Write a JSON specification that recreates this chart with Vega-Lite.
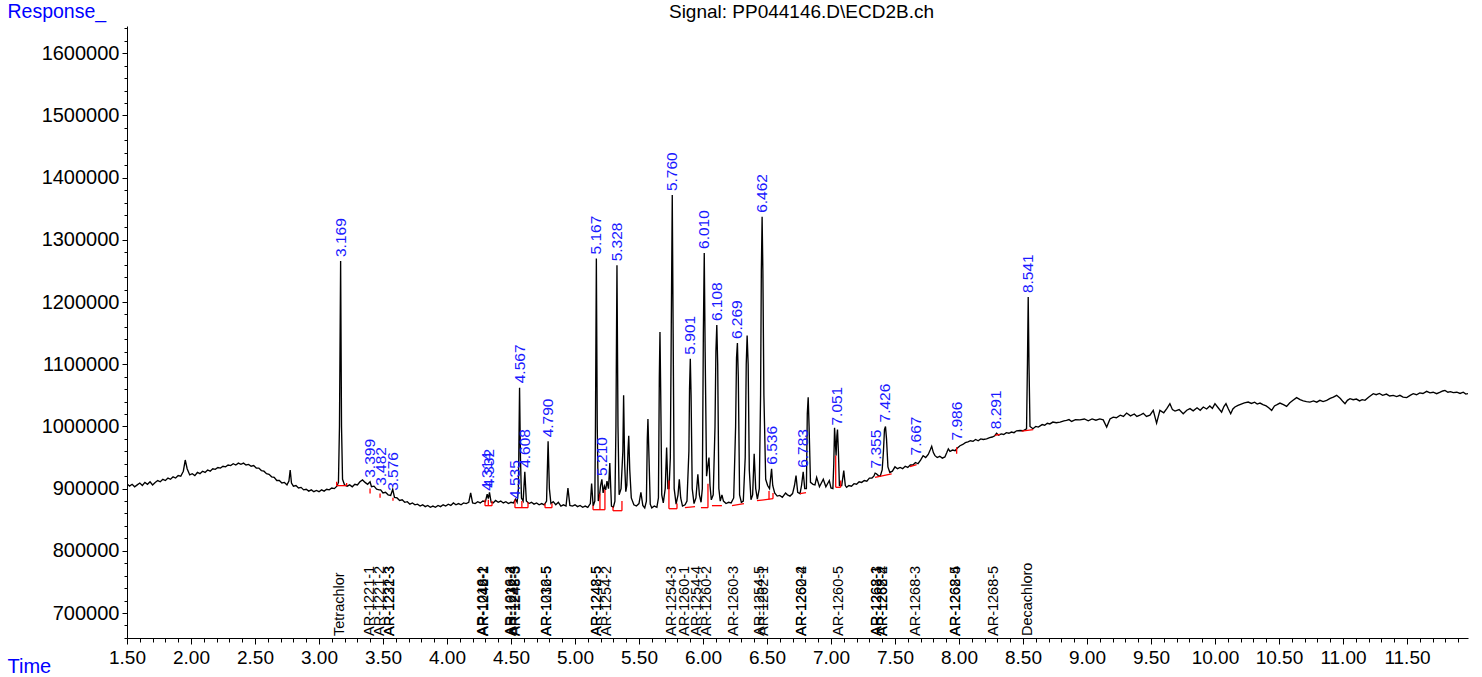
{
"$schema": "https://vega.github.io/schema/vega-lite/v6.json",
"width": 1341, "height": 612,
"autosize": {"type": "none"},
"padding": {"left": 127, "top": 26, "right": 14, "bottom": 39},
"background": "white",
"config": {"view": {"stroke": null}, "font": "Liberation Sans"},
"resolve": {"axis": {"x": "independent", "y": "independent"}},
"datasets": {
"signal": [
{"t":1.50,"r":908000},{"t":1.52,"r":904000},{"t":1.54,"r":907000},{"t":1.56,"r":903000},{"t":1.58,"r":906000},{"t":1.60,"r":909000},{"t":1.62,"r":905000},{"t":1.64,"r":910000},{"t":1.66,"r":907000},{"t":1.68,"r":911000},{"t":1.70,"r":906000},{"t":1.72,"r":910000},{"t":1.74,"r":913000},{"t":1.76,"r":911000},{"t":1.78,"r":915000},{"t":1.80,"r":913000},{"t":1.82,"r":917000},{"t":1.84,"r":915000},{"t":1.86,"r":919000},{"t":1.88,"r":917000},{"t":1.90,"r":921000},{"t":1.92,"r":920000},{"t":1.94,"r":928000},{"t":1.955,"r":946000},{"t":1.97,"r":932000},{"t":1.99,"r":922000},{"t":2.01,"r":924000},{"t":2.03,"r":921000},{"t":2.05,"r":926000},{"t":2.07,"r":924000},{"t":2.09,"r":928000},{"t":2.11,"r":926000},{"t":2.13,"r":930000},{"t":2.15,"r":928000},{"t":2.17,"r":932000},{"t":2.19,"r":931000},{"t":2.21,"r":934000},{"t":2.23,"r":933000},{"t":2.25,"r":936000},{"t":2.27,"r":935000},{"t":2.29,"r":938000},{"t":2.31,"r":937000},{"t":2.33,"r":940000},{"t":2.35,"r":938000},{"t":2.37,"r":941000},{"t":2.39,"r":939000},{"t":2.41,"r":941000},{"t":2.43,"r":938000},{"t":2.45,"r":939000},{"t":2.47,"r":936000},{"t":2.49,"r":937000},{"t":2.51,"r":933000},{"t":2.53,"r":933000},{"t":2.55,"r":929000},{"t":2.57,"r":928000},{"t":2.59,"r":924000},{"t":2.61,"r":923000},{"t":2.63,"r":919000},{"t":2.65,"r":918000},{"t":2.67,"r":913000},{"t":2.69,"r":913000},{"t":2.71,"r":909000},{"t":2.73,"r":910000},{"t":2.75,"r":906000},{"t":2.765,"r":912000},{"t":2.775,"r":930000},{"t":2.785,"r":909000},{"t":2.80,"r":904000},{"t":2.82,"r":905000},{"t":2.84,"r":901000},{"t":2.86,"r":902000},{"t":2.88,"r":898000},{"t":2.90,"r":899000},{"t":2.92,"r":896000},{"t":2.94,"r":898000},{"t":2.96,"r":895000},{"t":2.98,"r":897000},{"t":3.00,"r":895000},{"t":3.02,"r":898000},{"t":3.04,"r":896000},{"t":3.06,"r":899000},{"t":3.08,"r":898000},{"t":3.10,"r":901000},{"t":3.12,"r":900000},{"t":3.14,"r":904000},{"t":3.152,"r":910000},{"t":3.160,"r":1000000},{"t":3.169,"r":1266000},{"t":3.176,"r":1000000},{"t":3.184,"r":915000},{"t":3.20,"r":906000},{"t":3.22,"r":904000},{"t":3.24,"r":906000},{"t":3.26,"r":903000},{"t":3.28,"r":907000},{"t":3.30,"r":906000},{"t":3.32,"r":911000},{"t":3.34,"r":914000},{"t":3.36,"r":910000},{"t":3.38,"r":907000},{"t":3.399,"r":911000},{"t":3.41,"r":903000},{"t":3.43,"r":904000},{"t":3.45,"r":899000},{"t":3.47,"r":898000},{"t":3.482,"r":898000},{"t":3.50,"r":893000},{"t":3.52,"r":894000},{"t":3.54,"r":890000},{"t":3.56,"r":889000},{"t":3.576,"r":899000},{"t":3.59,"r":886000},{"t":3.61,"r":885000},{"t":3.63,"r":881000},{"t":3.65,"r":882000},{"t":3.67,"r":878000},{"t":3.69,"r":879000},{"t":3.71,"r":875000},{"t":3.73,"r":877000},{"t":3.75,"r":874000},{"t":3.77,"r":875000},{"t":3.79,"r":872000},{"t":3.81,"r":874000},{"t":3.83,"r":871000},{"t":3.85,"r":873000},{"t":3.87,"r":870000},{"t":3.89,"r":872000},{"t":3.91,"r":870000},{"t":3.93,"r":873000},{"t":3.95,"r":871000},{"t":3.97,"r":874000},{"t":3.99,"r":872000},{"t":4.01,"r":875000},{"t":4.03,"r":873000},{"t":4.05,"r":877000},{"t":4.07,"r":874000},{"t":4.09,"r":876000},{"t":4.11,"r":874000},{"t":4.13,"r":877000},{"t":4.15,"r":876000},{"t":4.17,"r":878000},{"t":4.185,"r":893000},{"t":4.20,"r":877000},{"t":4.22,"r":876000},{"t":4.24,"r":879000},{"t":4.26,"r":877000},{"t":4.28,"r":880000},{"t":4.30,"r":879000},{"t":4.314,"r":891000},{"t":4.323,"r":884000},{"t":4.332,"r":894000},{"t":4.345,"r":878000},{"t":4.36,"r":877000},{"t":4.38,"r":881000},{"t":4.40,"r":878000},{"t":4.42,"r":880000},{"t":4.44,"r":877000},{"t":4.46,"r":879000},{"t":4.48,"r":876000},{"t":4.50,"r":878000},{"t":4.52,"r":877000},{"t":4.535,"r":883000},{"t":4.548,"r":878000},{"t":4.558,"r":900000},{"t":4.567,"r":1062000},{"t":4.574,"r":950000},{"t":4.582,"r":885000},{"t":4.595,"r":880000},{"t":4.608,"r":927000},{"t":4.62,"r":880000},{"t":4.64,"r":876000},{"t":4.66,"r":878000},{"t":4.68,"r":875000},{"t":4.70,"r":877000},{"t":4.72,"r":874000},{"t":4.74,"r":876000},{"t":4.76,"r":874000},{"t":4.778,"r":880000},{"t":4.790,"r":976000},{"t":4.80,"r":900000},{"t":4.812,"r":876000},{"t":4.83,"r":879000},{"t":4.85,"r":874000},{"t":4.87,"r":878000},{"t":4.89,"r":872000},{"t":4.91,"r":874000},{"t":4.93,"r":872000},{"t":4.945,"r":901000},{"t":4.96,"r":873000},{"t":4.98,"r":872000},{"t":5.00,"r":874000},{"t":5.02,"r":871000},{"t":5.04,"r":873000},{"t":5.06,"r":870000},{"t":5.08,"r":872000},{"t":5.10,"r":870000},{"t":5.12,"r":876000},{"t":5.13,"r":908000},{"t":5.142,"r":872000},{"t":5.155,"r":880000},{"t":5.160,"r":1000000},{"t":5.167,"r":1270000},{"t":5.174,"r":1000000},{"t":5.182,"r":880000},{"t":5.192,"r":890000},{"t":5.20,"r":905000},{"t":5.21,"r":915000},{"t":5.22,"r":893000},{"t":5.23,"r":904000},{"t":5.24,"r":898000},{"t":5.25,"r":912000},{"t":5.262,"r":900000},{"t":5.272,"r":941000},{"t":5.285,"r":872000},{"t":5.30,"r":870000},{"t":5.312,"r":880000},{"t":5.320,"r":1000000},{"t":5.328,"r":1259000},{"t":5.336,"r":1000000},{"t":5.345,"r":890000},{"t":5.36,"r":900000},{"t":5.374,"r":960000},{"t":5.380,"r":1050000},{"t":5.388,"r":940000},{"t":5.397,"r":895000},{"t":5.405,"r":905000},{"t":5.414,"r":960000},{"t":5.420,"r":985000},{"t":5.428,"r":930000},{"t":5.44,"r":885000},{"t":5.46,"r":874000},{"t":5.48,"r":872000},{"t":5.50,"r":876000},{"t":5.515,"r":894000},{"t":5.53,"r":873000},{"t":5.545,"r":869000},{"t":5.558,"r":880000},{"t":5.565,"r":980000},{"t":5.570,"r":1012000},{"t":5.577,"r":960000},{"t":5.588,"r":875000},{"t":5.60,"r":869000},{"t":5.62,"r":872000},{"t":5.64,"r":870000},{"t":5.652,"r":885000},{"t":5.659,"r":1080000},{"t":5.664,"r":1152000},{"t":5.670,"r":1050000},{"t":5.678,"r":890000},{"t":5.690,"r":877000},{"t":5.705,"r":900000},{"t":5.716,"r":966000},{"t":5.726,"r":900000},{"t":5.735,"r":900000},{"t":5.745,"r":950000},{"t":5.752,"r":1150000},{"t":5.760,"r":1372000},{"t":5.767,"r":1150000},{"t":5.775,"r":900000},{"t":5.790,"r":875000},{"t":5.805,"r":890000},{"t":5.815,"r":915000},{"t":5.826,"r":885000},{"t":5.84,"r":872000},{"t":5.86,"r":874000},{"t":5.875,"r":880000},{"t":5.890,"r":960000},{"t":5.895,"r":1060000},{"t":5.901,"r":1109000},{"t":5.907,"r":1050000},{"t":5.916,"r":900000},{"t":5.93,"r":876000},{"t":5.945,"r":885000},{"t":5.960,"r":923000},{"t":5.972,"r":890000},{"t":5.985,"r":878000},{"t":5.995,"r":900000},{"t":6.003,"r":1150000},{"t":6.010,"r":1279000},{"t":6.017,"r":1120000},{"t":6.028,"r":920000},{"t":6.040,"r":940000},{"t":6.047,"r":950000},{"t":6.055,"r":905000},{"t":6.065,"r":882000},{"t":6.080,"r":890000},{"t":6.094,"r":1000000},{"t":6.101,"r":1120000},{"t":6.108,"r":1163000},{"t":6.115,"r":1100000},{"t":6.124,"r":900000},{"t":6.135,"r":880000},{"t":6.148,"r":890000},{"t":6.160,"r":880000},{"t":6.18,"r":876000},{"t":6.20,"r":878000},{"t":6.22,"r":877000},{"t":6.240,"r":885000},{"t":6.255,"r":1000000},{"t":6.262,"r":1110000},{"t":6.269,"r":1134000},{"t":6.276,"r":1080000},{"t":6.286,"r":890000},{"t":6.30,"r":878000},{"t":6.315,"r":880000},{"t":6.330,"r":950000},{"t":6.338,"r":1100000},{"t":6.345,"r":1146000},{"t":6.353,"r":1100000},{"t":6.362,"r":930000},{"t":6.375,"r":882000},{"t":6.388,"r":890000},{"t":6.400,"r":956000},{"t":6.412,"r":900000},{"t":6.425,"r":883000},{"t":6.440,"r":900000},{"t":6.450,"r":1050000},{"t":6.456,"r":1250000},{"t":6.462,"r":1337000},{"t":6.468,"r":1250000},{"t":6.476,"r":1050000},{"t":6.490,"r":915000},{"t":6.505,"r":905000},{"t":6.520,"r":900000},{"t":6.530,"r":920000},{"t":6.536,"r":932000},{"t":6.545,"r":905000},{"t":6.56,"r":893000},{"t":6.58,"r":888000},{"t":6.60,"r":889000},{"t":6.62,"r":886000},{"t":6.645,"r":893000},{"t":6.66,"r":890000},{"t":6.68,"r":888000},{"t":6.700,"r":892000},{"t":6.715,"r":905000},{"t":6.727,"r":921000},{"t":6.740,"r":894000},{"t":6.758,"r":892000},{"t":6.770,"r":905000},{"t":6.783,"r":927000},{"t":6.795,"r":900000},{"t":6.808,"r":900000},{"t":6.815,"r":1020000},{"t":6.822,"r":1047000},{"t":6.829,"r":1000000},{"t":6.840,"r":910000},{"t":6.86,"r":907000},{"t":6.875,"r":906000},{"t":6.888,"r":918000},{"t":6.91,"r":903000},{"t":6.94,"r":915000},{"t":6.96,"r":903000},{"t":6.987,"r":913000},{"t":7.00,"r":901000},{"t":7.015,"r":900000},{"t":7.022,"r":940000},{"t":7.028,"r":998000},{"t":7.034,"r":975000},{"t":7.040,"r":953000},{"t":7.046,"r":985000},{"t":7.051,"r":995000},{"t":7.058,"r":960000},{"t":7.066,"r":905000},{"t":7.084,"r":905000},{"t":7.10,"r":929000},{"t":7.112,"r":905000},{"t":7.122,"r":902000},{"t":7.14,"r":905000},{"t":7.16,"r":904000},{"t":7.18,"r":908000},{"t":7.20,"r":907000},{"t":7.22,"r":911000},{"t":7.24,"r":910000},{"t":7.26,"r":913000},{"t":7.28,"r":912000},{"t":7.30,"r":917000},{"t":7.32,"r":917000},{"t":7.335,"r":920000},{"t":7.345,"r":925000},{"t":7.355,"r":924000},{"t":7.37,"r":921000},{"t":7.385,"r":920000},{"t":7.400,"r":930000},{"t":7.410,"r":960000},{"t":7.418,"r":995000},{"t":7.426,"r":1000000},{"t":7.434,"r":980000},{"t":7.445,"r":935000},{"t":7.46,"r":926000},{"t":7.48,"r":928000},{"t":7.50,"r":935000},{"t":7.52,"r":932000},{"t":7.54,"r":934000},{"t":7.56,"r":932000},{"t":7.58,"r":936000},{"t":7.60,"r":934000},{"t":7.62,"r":938000},{"t":7.64,"r":938000},{"t":7.66,"r":942000},{"t":7.68,"r":940000},{"t":7.70,"r":946000},{"t":7.72,"r":953000},{"t":7.74,"r":950000},{"t":7.76,"r":955000},{"t":7.775,"r":962000},{"t":7.787,"r":968000},{"t":7.80,"r":958000},{"t":7.8125,"r":953000},{"t":7.83,"r":950000},{"t":7.85,"r":952000},{"t":7.87,"r":949000},{"t":7.89,"r":951000},{"t":7.905,"r":958000},{"t":7.917,"r":964000},{"t":7.93,"r":960000},{"t":7.95,"r":962000},{"t":7.97,"r":961000},{"t":7.986,"r":965000},{"t":8.008,"r":969000},{"t":8.03,"r":971000},{"t":8.05,"r":974000},{"t":8.07,"r":975000},{"t":8.09,"r":977000},{"t":8.11,"r":976000},{"t":8.13,"r":979000},{"t":8.15,"r":977000},{"t":8.17,"r":980000},{"t":8.19,"r":979000},{"t":8.216,"r":980000},{"t":8.24,"r":982000},{"t":8.26,"r":983000},{"t":8.28,"r":985000},{"t":8.294,"r":989000},{"t":8.31,"r":986000},{"t":8.33,"r":988000},{"t":8.35,"r":987000},{"t":8.37,"r":990000},{"t":8.39,"r":989000},{"t":8.41,"r":991000},{"t":8.43,"r":990000},{"t":8.45,"r":993000},{"t":8.477,"r":993500},{"t":8.50,"r":993000},{"t":8.528,"r":996000},{"t":8.535,"r":1100000},{"t":8.541,"r":1208000},{"t":8.547,"r":1100000},{"t":8.555,"r":1000000},{"t":8.578,"r":996300},{"t":8.60,"r":1000000},{"t":8.62,"r":999000},{"t":8.65,"r":1003000},{"t":8.67,"r":1002000},{"t":8.69,"r":1005000},{"t":8.71,"r":1004000},{"t":8.734,"r":1007000},{"t":8.76,"r":1006000},{"t":8.79,"r":1007000},{"t":8.82,"r":1009000},{"t":8.84,"r":1009700},{"t":8.86,"r":1011000},{"t":8.88,"r":1008000},{"t":8.91,"r":1011000},{"t":8.945,"r":1010500},{"t":8.98,"r":1012000},{"t":9.01,"r":1009000},{"t":9.04,"r":1012000},{"t":9.07,"r":1010000},{"t":9.10,"r":1012000},{"t":9.127,"r":1010500},{"t":9.154,"r":999000},{"t":9.18,"r":1012000},{"t":9.205,"r":1015000},{"t":9.23,"r":1014000},{"t":9.26,"r":1018000},{"t":9.285,"r":1016000},{"t":9.31,"r":1021500},{"t":9.34,"r":1017000},{"t":9.37,"r":1020000},{"t":9.39,"r":1016000},{"t":9.414,"r":1018000},{"t":9.44,"r":1021000},{"t":9.465,"r":1016000},{"t":9.492,"r":1018000},{"t":9.518,"r":1025800},{"t":9.544,"r":1005300},{"t":9.57,"r":1025800},{"t":9.60,"r":1022000},{"t":9.625,"r":1029000},{"t":9.648,"r":1036600},{"t":9.668,"r":1027000},{"t":9.688,"r":1024700},{"t":9.72,"r":1027000},{"t":9.752,"r":1020500},{"t":9.78,"r":1026000},{"t":9.805,"r":1028600},{"t":9.83,"r":1025000},{"t":9.86,"r":1030000},{"t":9.885,"r":1026000},{"t":9.909,"r":1031200},{"t":9.935,"r":1028000},{"t":9.96,"r":1033000},{"t":9.98,"r":1029000},{"t":10.00,"r":1036600},{"t":10.025,"r":1030000},{"t":10.052,"r":1023100},{"t":10.07,"r":1032000},{"t":10.086,"r":1036600},{"t":10.105,"r":1028000},{"t":10.123,"r":1020500},{"t":10.14,"r":1028000},{"t":10.156,"r":1031200},{"t":10.18,"r":1034000},{"t":10.205,"r":1036000},{"t":10.23,"r":1038000},{"t":10.26,"r":1039200},{"t":10.285,"r":1037000},{"t":10.31,"r":1039000},{"t":10.33,"r":1036000},{"t":10.352,"r":1037600},{"t":10.375,"r":1035000},{"t":10.40,"r":1033000},{"t":10.42,"r":1030000},{"t":10.443,"r":1025800},{"t":10.465,"r":1033000},{"t":10.485,"r":1035000},{"t":10.508,"r":1037600},{"t":10.535,"r":1035000},{"t":10.56,"r":1032300},{"t":10.585,"r":1038000},{"t":10.61,"r":1042000},{"t":10.638,"r":1046300},{"t":10.665,"r":1043000},{"t":10.69,"r":1041000},{"t":10.715,"r":1040000},{"t":10.742,"r":1039200},{"t":10.77,"r":1041000},{"t":10.795,"r":1039000},{"t":10.82,"r":1042000},{"t":10.845,"r":1040000},{"t":10.873,"r":1041900},{"t":10.90,"r":1045000},{"t":10.925,"r":1047000},{"t":10.951,"r":1050000},{"t":10.98,"r":1045000},{"t":11.00,"r":1040000},{"t":11.016,"r":1036600},{"t":11.035,"r":1042000},{"t":11.055,"r":1044600},{"t":11.08,"r":1043000},{"t":11.105,"r":1044000},{"t":11.13,"r":1041000},{"t":11.15,"r":1043000},{"t":11.172,"r":1041900},{"t":11.20,"r":1047000},{"t":11.237,"r":1052700},{"t":11.26,"r":1051000},{"t":11.285,"r":1053000},{"t":11.31,"r":1050000},{"t":11.34,"r":1052000},{"t":11.365,"r":1049000},{"t":11.393,"r":1050000},{"t":11.42,"r":1048000},{"t":11.445,"r":1050000},{"t":11.47,"r":1047000},{"t":11.498,"r":1046300},{"t":11.525,"r":1050000},{"t":11.549,"r":1052700},{"t":11.575,"r":1051000},{"t":11.60,"r":1054000},{"t":11.625,"r":1053000},{"t":11.654,"r":1056500},{"t":11.68,"r":1054000},{"t":11.705,"r":1055000},{"t":11.732,"r":1052700},{"t":11.76,"r":1055000},{"t":11.78,"r":1057000},{"t":11.797,"r":1058000},{"t":11.82,"r":1055000},{"t":11.84,"r":1056000},{"t":11.862,"r":1054300},{"t":11.89,"r":1055000},{"t":11.915,"r":1053000},{"t":11.94,"r":1055000},{"t":11.96,"r":1052000},{"t":11.977,"r":1052700}
],
"peaks": [
{"t":3.169,"r":1266000,"label":"3.169"},{"t":3.399,"r":911000,"label":"3.399"},{"t":3.482,"r":898000,"label":"3.482"},{"t":3.576,"r":890000,"label":"3.576"},{"t":4.314,"r":890000,"label":"4.314"},{"t":4.332,"r":895000,"label":"4.332"},{"t":4.535,"r":877000,"label":"4.535"},{"t":4.567,"r":1063000,"label":"4.567"},{"t":4.608,"r":927000,"label":"4.608"},{"t":4.790,"r":976000,"label":"4.790"},{"t":5.167,"r":1270000,"label":"5.167"},{"t":5.210,"r":914000,"label":"5.210"},{"t":5.328,"r":1259000,"label":"5.328"},{"t":5.760,"r":1372000,"label":"5.760"},{"t":5.901,"r":1109000,"label":"5.901"},{"t":6.010,"r":1279000,"label":"6.010"},{"t":6.108,"r":1163000,"label":"6.108"},{"t":6.269,"r":1134000,"label":"6.269"},{"t":6.462,"r":1337000,"label":"6.462"},{"t":6.536,"r":932000,"label":"6.536"},{"t":6.783,"r":927000,"label":"6.783"},{"t":7.051,"r":995000,"label":"7.051"},{"t":7.355,"r":926000,"label":"7.355"},{"t":7.426,"r":1000000,"label":"7.426"},{"t":7.667,"r":947000,"label":"7.667"},{"t":7.986,"r":971000,"label":"7.986"},{"t":8.291,"r":989000,"label":"8.291"},{"t":8.541,"r":1208000,"label":"8.541"}
],
"baselines": [
{"t":3.138,"t2":3.216,"r":904800,"r2":904800},{"t":3.138,"t2":3.138,"r":904800,"r2":911000},{"t":3.216,"t2":3.216,"r":904800,"r2":909000},{"t":3.399,"t2":3.399,"r":892000,"r2":900000},{"t":3.477,"t2":3.477,"r":885500,"r2":892000},{"t":3.578,"t2":3.578,"r":880600,"r2":885500},{"t":4.297,"t2":4.352,"r":872600,"r2":872600},{"t":4.297,"t2":4.297,"r":872600,"r2":882000},{"t":4.323,"t2":4.323,"r":872600,"r2":882000},{"t":4.352,"t2":4.352,"r":872600,"r2":880000},{"t":4.531,"t2":4.633,"r":869400,"r2":869400},{"t":4.531,"t2":4.531,"r":869400,"r2":882000},{"t":4.585,"t2":4.585,"r":869400,"r2":880000},{"t":4.633,"t2":4.633,"r":869400,"r2":878000},{"t":4.766,"t2":4.820,"r":869400,"r2":869400},{"t":4.766,"t2":4.766,"r":869400,"r2":876000},{"t":4.820,"t2":4.820,"r":869400,"r2":876000},{"t":5.141,"t2":5.234,"r":866100,"r2":866100},{"t":5.141,"t2":5.141,"r":866100,"r2":873000},{"t":5.195,"t2":5.195,"r":866100,"r2":892000},{"t":5.234,"t2":5.234,"r":866100,"r2":898000},{"t":5.297,"t2":5.367,"r":864500,"r2":864500},{"t":5.297,"t2":5.297,"r":864500,"r2":871000},{"t":5.367,"t2":5.367,"r":864500,"r2":880000},{"t":5.734,"t2":5.797,"r":867700,"r2":867700},{"t":5.734,"t2":5.734,"r":867700,"r2":912900},{"t":5.797,"t2":5.797,"r":867700,"r2":876000},{"t":5.859,"t2":5.938,"r":869400,"r2":871000},{"t":5.984,"t2":6.039,"r":869400,"r2":869400},{"t":6.039,"t2":6.039,"r":869400,"r2":908000},{"t":6.07,"t2":6.148,"r":872600,"r2":872600},{"t":6.227,"t2":6.32,"r":872600,"r2":875800},{"t":6.422,"t2":6.547,"r":880600,"r2":883900},{"t":6.516,"t2":6.516,"r":882500,"r2":896000},{"t":6.547,"t2":6.547,"r":883900,"r2":893000},{"t":6.758,"t2":6.805,"r":892000,"r2":893600},{"t":7.037,"t2":7.076,"r":902100,"r2":902100},{"t":7.037,"t2":7.037,"r":902100,"r2":953200},{"t":7.076,"t2":7.076,"r":902100,"r2":913000},{"t":7.344,"t2":7.474,"r":918200,"r2":923700},{"t":7.617,"t2":7.669,"r":935500,"r2":938700},{"t":7.982,"t2":7.982,"r":956000,"r2":966600},{"t":8.281,"t2":8.320,"r":985500,"r2":987100},{"t":8.49,"t2":8.58,"r":992400,"r2":994700}
],
"compounds": [
{"t":3.164,"name":"Tetrachlor"},{"t":3.398,"name":"AR-1221-1"},{"t":3.477,"name":"AR-1221-2"},{"t":3.555,"name":"AR-1221-3"},{"t":3.555,"name":"AR-1232-3"},{"t":4.28,"name":"AR-1016-1"},{"t":4.29,"name":"AR-1242-1"},{"t":4.29,"name":"AR-1248-2"},{"t":4.50,"name":"AR-1016-2"},{"t":4.505,"name":"AR-1232-4"},{"t":4.535,"name":"AR-1242-3"},{"t":4.54,"name":"AR-1248-3"},{"t":4.78,"name":"AR-1016-5"},{"t":4.782,"name":"AR-1232-5"},{"t":5.17,"name":"AR-1242-5"},{"t":5.172,"name":"AR-1248-5"},{"t":5.25,"name":"AR-1254-2"},{"t":5.758,"name":"AR-1254-3"},{"t":5.859,"name":"AR-1260-1"},{"t":5.953,"name":"AR-1254-4"},{"t":6.031,"name":"AR-1260-2"},{"t":6.242,"name":"AR-1260-3"},{"t":6.445,"name":"AR-1254-5"},{"t":6.477,"name":"AR-1262-1"},{"t":6.77,"name":"AR-1260-4"},{"t":6.77,"name":"AR-1262-2"},{"t":7.0625,"name":"AR-1260-5"},{"t":7.359,"name":"AR-1268-1"},{"t":7.359,"name":"AR-1262-3"},{"t":7.406,"name":"AR-1268-2"},{"t":7.406,"name":"AR-1262-4"},{"t":7.664,"name":"AR-1268-3"},{"t":7.977,"name":"AR-1262-5"},{"t":7.977,"name":"AR-1268-4"},{"t":8.273,"name":"AR-1268-5"},{"t":8.539,"name":"Decachloro"}
]
},
"layer": [
{"data": {"name": "signal"},
 "mark": {"type": "line", "color": "black", "strokeWidth": 1.35, "clip": true},
 "encoding": {
  "x": {"field": "t", "type": "quantitative",
   "scale": {"domain": [1.5, 11.977], "nice": false, "zero": false},
   "axis": {"orient": "bottom", "title": "Time", "titleColor": "#0000ff", "titleFont": "Liberation Sans", "titleFontSize": 20, "titleFontWeight": "normal", "titleAngle": 0, "titleAlign": "left", "titleBaseline": "alphabetic", "titleX": -120, "titleY": 34,
    "values": [1.5,2.0,2.5,3.0,3.5,4.0,4.5,5.0,5.5,6.0,6.5,7.0,7.5,8.0,8.5,9.0,9.5,10.0,10.5,11.0,11.5],
    "format": ".2f", "tickSize": 6,
    "labelFont": "Liberation Sans", "labelFontSize": 19, "labelColor": "black", "labelPadding": 4, "labelOverlap": false, "labelFlush": false,
    "domainColor": "black", "tickColor": "black", "grid": false}},
  "y": {"field": "r", "type": "quantitative",
   "scale": {"domain": [659800, 1643900], "nice": false, "zero": false},
   "axis": {"orient": "left", "title": "Response_", "titleColor": "#0000ff", "titleFont": "Liberation Sans", "titleFontSize": 19.5, "titleFontWeight": "normal", "titleAngle": 0, "titleAlign": "left", "titleBaseline": "alphabetic", "titleX": -120, "titleY": -9,
    "values": [700000,800000,900000,1000000,1100000,1200000,1300000,1400000,1500000,1600000],
    "format": "d", "tickSize": 5,
    "labelFont": "Liberation Sans", "labelFontSize": 20, "labelColor": "black", "labelPadding": 3, "labelOverlap": false, "labelFlush": false,
    "domainColor": "black", "tickColor": "black", "grid": false}}
 }},
{"data": {"name": "baselines"},
 "mark": {"type": "rule", "color": "#ff0000", "strokeWidth": 1.3},
 "encoding": {
  "x": {"field": "t", "type": "quantitative",
   "axis": {"orient": "bottom", "title": null, "labels": false, "domain": false, "grid": false, "tickSize": 4, "tickColor": "black",
    "values": [1.6,1.7,1.8,1.9,2.1,2.2,2.3,2.4,2.6,2.7,2.8,2.9,3.1,3.2,3.3,3.4,3.6,3.7,3.8,3.9,4.1,4.2,4.3,4.4,4.6,4.7,4.8,4.9,5.1,5.2,5.3,5.4,5.6,5.7,5.8,5.9,6.1,6.2,6.3,6.4,6.6,6.7,6.8,6.9,7.1,7.2,7.3,7.4,7.6,7.7,7.8,7.9,8.1,8.2,8.3,8.4,8.6,8.7,8.8,8.9,9.1,9.2,9.3,9.4,9.6,9.7,9.8,9.9,10.1,10.2,10.3,10.4,10.6,10.7,10.8,10.9,11.1,11.2,11.3,11.4,11.6,11.7,11.8,11.9]}},
  "x2": {"field": "t2"},
  "y": {"field": "r", "type": "quantitative",
   "axis": {"orient": "left", "title": null, "labels": false, "domain": false, "grid": false, "tickSize": 3, "tickColor": "black",
    "values": [660000,680000,720000,740000,760000,780000,820000,840000,860000,880000,920000,940000,960000,980000,1020000,1040000,1060000,1080000,1120000,1140000,1160000,1180000,1220000,1240000,1260000,1280000,1320000,1340000,1360000,1380000,1420000,1440000,1460000,1480000,1520000,1540000,1560000,1580000,1620000,1640000]}},
  "y2": {"field": "r2"}}},
{"data": {"name": "peaks"},
 "mark": {"type": "text", "angle": 270, "align": "left", "baseline": "middle", "dx": 4, "color": "#1a1aff", "font": "Liberation Sans", "fontSize": 15.5},
 "encoding": {
  "x": {"field": "t", "type": "quantitative",
   "axis": {"orient": "top", "title": "Signal: PP044146.D\\ECD2B.ch", "titleFont": "Liberation Sans", "titleFontSize": 19, "titleFontWeight": "normal", "titleColor": "black", "titleAngle": 0, "titleAlign": "center", "titleBaseline": "alphabetic", "titleX": 674, "titleY": -9, "labels": false, "ticks": false, "domain": false, "grid": false, "values": []}},
  "y": {"field": "r", "type": "quantitative", "axis": null},
  "text": {"field": "label"}}},
{"data": {"name": "compounds"},
 "mark": {"type": "text", "angle": 270, "align": "left", "baseline": "middle", "dx": 2, "color": "black", "font": "Liberation Sans", "fontSize": 14.5},
 "encoding": {"x": {"field": "t", "type": "quantitative", "axis": null}, "y": {"datum": 659800, "type": "quantitative", "axis": null}, "text": {"field": "name"}}}
]
}
